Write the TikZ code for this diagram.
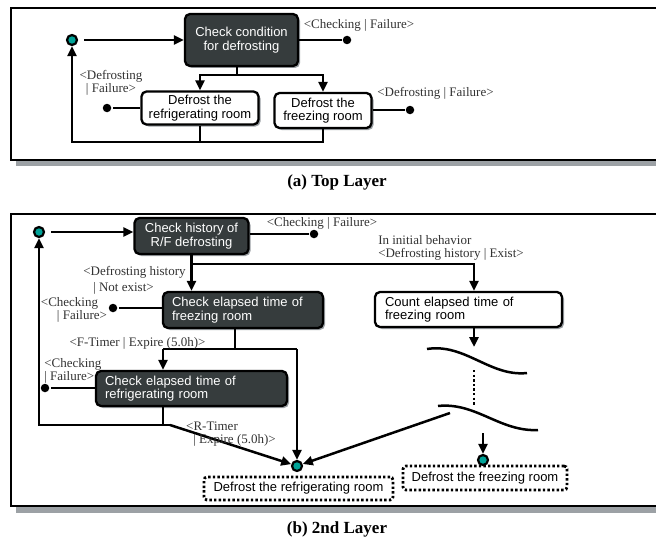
\documentclass[tikz,border=0pt]{standalone}
\usepackage{fontspec}
\setmainfont{Liberation Serif}
\newfontfamily\boxfont{Liberation Sans}
\usetikzlibrary{arrows.meta,shadows}
\definecolor{boxdark}{HTML}{363C3D}
\definecolor{tealdot}{HTML}{00A398}
\definecolor{shadowgrey}{HTML}{9CA1A5}
\definecolor{labelgrey}{HTML}{333333}
\tikzset{
  statebox/.style={draw=black, line width=2.3pt, rounded corners=5pt, inner sep=0pt,
    font=\boxfont\fontsize{13}{13.4}\selectfont,
    drop shadow={shadow xshift=2pt, shadow yshift=-2pt, fill=shadowgrey, opacity=1}},
  darkbox/.style={statebox, fill=boxdark, text=white},
  lightbox/.style={statebox, fill=white, text=black},
  dotbox/.style={draw=black, line width=2.8pt, dash pattern=on 2.4pt off 2.2pt,
    rounded corners=3pt, fill=white, inner sep=0pt, font=\boxfont\fontsize{13}{13.4}\selectfont},
  initdot/.style={circle, draw=black, line width=2.2pt, fill=tealdot, minimum size=10pt, inner sep=0pt},
  faildot/.style={circle, fill=black, minimum size=8.5pt, inner sep=0pt},
  lbl/.style={inner sep=0pt, text=labelgrey, font=\fontsize{13}{13}\selectfont},
  caption/.style={inner sep=0pt, font=\bfseries\fontsize{17}{17}\selectfont},
}
\begin{document}
\begin{tikzpicture}[x=1pt, y=-1pt, line width=2.5pt, >={Triangle[length=10pt,width=9pt]}]
\useasboundingbox (0,0) rectangle (656,543);
% frames
\fill[shadowgrey] (16,13) rectangle (662,166);
\draw[fill=white, line width=2pt] (11,8) rectangle (662,160);
\fill[shadowgrey] (16,219) rectangle (662,513);
\draw[fill=white, line width=2pt] (11,214) rectangle (662,506);

% (a) top layer
\node[darkbox, minimum width=113pt, minimum height=52pt, align=center] (cond) at (241.5,40) {Check condition\\for defrosting};
\node[lightbox, minimum width=117pt, minimum height=33pt, align=center] (refr) at (200,108) {Defrost the\\refrigerating room};
\node[lightbox, minimum width=97pt, minimum height=35pt, align=center] (frz) at (323,110.5) {Defrost the\\freezing room};
\node[initdot] (inita) at (72,40) {};
\node[faildot] (fa1) at (347,40) {};
\node[faildot] (fa2) at (107,108) {};
\node[faildot] (fa3) at (410,110) {};
\coordinate (splita) at (237,75);
\coordinate (reta) at (72,142);
\draw[->, shorten <=6pt] (inita) -- (cond.west);
\draw (cond.east) -- (fa1);
\draw (splita |- cond.south) -- (splita);
\draw[->] (splita) -| (refr.north);
\draw[->] (splita) -| (frz.north);
\draw (refr.west) -- (fa2);
\draw (frz.east |- fa3) -- (fa3);
\draw[->] (frz.south) |- (reta) -- (inita.south);
\draw (refr.south) -- (refr.south |- reta);
\node[lbl] (la1) at (359,25) {<Checking | Failure>};
\node[lbl, align=center] (la2) at (111,82.5) {<Defrosting\\| Failure>};
\node[lbl] (la3) at (435.5,93) {<Defrosting | Failure>};
\node[caption] (capa) at (337,182) {(a) Top Layer};

% (b) 2nd layer
\node[darkbox, minimum width=114pt, minimum height=36pt, align=center] (hist) at (191.5,236) {Check history of\\R/F defrosting};
\node[darkbox, text width=142pt, minimum height=36pt, inner xsep=9pt, align=left] (felap) at (243,310) {Check elapsed time of\\freezing room};
\node[lightbox, text width=167pt, minimum height=35pt, inner xsep=10pt, align=left] (count) at (468.5,309.5) {Count elapsed time of\\freezing room};
\node[darkbox, text width=173pt, minimum height=35pt, inner xsep=9pt, align=left] (relap) at (191.5,388.5) {Check elapsed time of\\refrigerating room};
\node[dotbox, minimum width=189pt, minimum height=23pt] (drefr) at (298.5,488.5) {Defrost the refrigerating room};
\node[dotbox, minimum width=164pt, minimum height=24pt] (dfrz) at (485,478) {Defrost the freezing room};
\node[initdot] (initb) at (39,232) {};
\node[faildot] (fb1) at (314,234) {};
\node[faildot] (fb2) at (113,308) {};
\node[faildot] (fb3) at (45,388) {};
\node[initdot] (fin1) at (297,466) {};
\node[initdot] (fin2) at (483,460) {};
\coordinate (splitb) at (191.5,264);
\coordinate (cnttop) at (474,264);
\coordinate (splitc) at (235,349);
\coordinate (relapin) at (163,349);
\coordinate (finin) at (297,349);
\coordinate (relapout) at (163,425);
\coordinate (bendb) at (170,425);
\coordinate (retb) at (39,425);
\coordinate (cntout) at (474,347);
\coordinate (cut) at (450,413);
\coordinate (fin2in) at (483,433);
\draw[->, shorten <=6pt] (initb) -- (initb -| hist.west);
\draw (hist.east |- fb1) -- (fb1);
\draw (hist.south) -- (splitb);
\draw[->] (splitb) -- (splitb |- felap.north);
\draw[->] (splitb) -- (cnttop) -- (cnttop |- count.north);
\draw (felap.west |- fb2) -- (fb2);
\draw (splitc |- felap.south) -- (splitc);
\draw (relapin) -- (finin);
\draw[->] (relapin) -- (relapin |- relap.north);
\draw[->] (finin) -- (fin1);
\draw (relap.west |- fb3) -- (fb3);
\draw (relapout |- relap.south) -- (relapout);
\draw[->] (bendb) -- (retb) -- (initb.south);
\draw[->] (bendb) -- (fin1);
\draw[->] (cntout |- count.south) -- (cntout);
\draw (427,349) .. controls (465,343) and (490,377) .. (527,373);
\draw[line width=2.8pt, dash pattern=on 2.4pt off 2.2pt] (474,370) -- (474,405);
\draw (438,406) .. controls (476,402) and (500,432) .. (538,430);
\draw[->] (cut) -- (fin1);
\draw[->] (fin2in) -- (fin2);
\node[lbl] (lb1) at (322,223) {<Checking | Failure>};
\node[lbl, align=left, anchor=west] (lb2) at (377,248) {In initial behavior\\<Defrosting history | Exist>};
\node[lbl] (lb3) at (134.5,272) {<Defrosting history};
\node[lbl] (lb4) at (123.5,288) {| Not exist>};
\node[lbl] (lb5) at (69.5,303) {<Checking};
\node[lbl] (lb6) at (82,316) {| Failure>};
\node[lbl] (lb7) at (137.5,343) {<F-Timer | Expire (5.0h)>};
\node[lbl, align=left, anchor=west] (lb8) at (43,371) {<Checking\\| Failure>};
\node[lbl] (lb9) at (212,426) {<R-Timer};
\node[lbl] (lb10) at (234.5,440) {| Expire (5.0h)>};
\node[caption] (capb) at (337,529) {(b) 2nd Layer};
\end{tikzpicture}
\end{document}
